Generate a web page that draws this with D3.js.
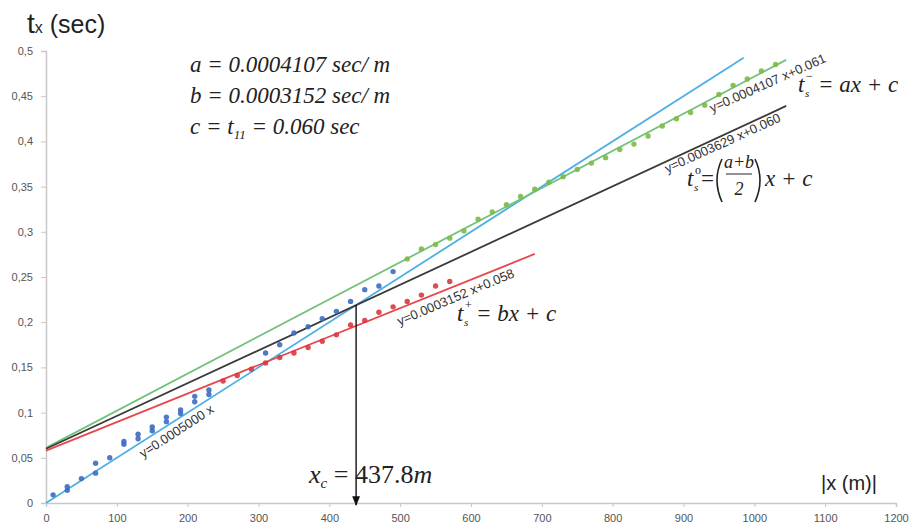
<!DOCTYPE html>
<html>
<head>
<meta charset="utf-8">
<script src="https://cdn.jsdelivr.net/npm/d3@7"></script>
<style>
  html, body { margin: 0; padding: 0; background: #fff; }
  svg { display: block; }
  .tick text { font-family: "Liberation Sans", Arial, sans-serif; font-size: 11px; fill: #555; }
</style>
</head>
<body>
<svg id="chart" width="914" height="530"></svg>
<script>
// Axis ticks
const xTicks = [0, 100, 200, 300, 400, 500, 600, 700, 800, 900, 1000, 1100, 1200];
const yTicks = [0, 0.05, 0.1, 0.15, 0.2, 0.25, 0.3, 0.35, 0.4, 0.45, 0.5];
const yTickLabels = ["0", "0,05", "0,1", "0,15", "0,2", "0,25", "0,3", "0,35", "0,4", "0,45", "0,5"];

// Measured travel times (blue: direct arrivals, red: forward, green: reverse)
const blueX = [10, 30, 30, 50, 70, 70, 90, 110, 110, 130, 130, 150, 150, 170, 170, 190, 190, 210, 210, 230, 230,
               310, 330, 350, 370, 390, 410, 430, 450, 470, 490];
const blueY = [0.009, 0.018, 0.014, 0.027, 0.044, 0.033, 0.050, 0.068, 0.065, 0.076, 0.071, 0.084, 0.080, 0.095, 0.090,
               0.103, 0.099, 0.118, 0.112, 0.125, 0.120,
               0.166, 0.175, 0.188, 0.195, 0.204, 0.212, 0.223, 0.236, 0.240, 0.256];
const redX = [250, 270, 290, 310, 330, 350, 370, 390, 410, 430, 450, 470, 490, 510, 530, 550, 570];
const redY = [0.135, 0.141, 0.148, 0.155, 0.161, 0.166, 0.172, 0.179, 0.186, 0.197, 0.202, 0.211, 0.217, 0.223,
              0.230, 0.240, 0.245];
const greenX = [510, 530, 550, 570, 590, 610, 630, 650, 670, 690, 710, 730, 750, 770, 790, 810, 830, 850, 870,
                890, 910, 930, 950, 970, 990, 1010, 1030];
const greenY = [0.270, 0.281, 0.286, 0.293, 0.301, 0.314, 0.322, 0.330, 0.339, 0.347, 0.355, 0.361, 0.369, 0.376,
                0.382, 0.391, 0.397, 0.406, 0.417, 0.425, 0.432, 0.440, 0.452, 0.462, 0.469, 0.478, 0.485];

// Linear fits: y = slope * x + intercept, drawn from x = 0 to xEnd
const fitNames = ["blue", "green", "black", "red"];
const fitSlopes = [0.0005000, 0.0004107, 0.0003629, 0.0003152];
const fitIntercepts = [0, 0.061, 0.060, 0.058];
const fitEnds = [985, 1045, 1045, 690];
const fitColors = ["#4db0e4", "#72c27c", "#3a3a3a", "#e5474c"];
const fitLabels = ["y=0.0005000 x", "y=0.0004107 x+0.061", "y=0.0003629 x+0.060", "y=0.0003152 x+0.058"];

// Crossover distance
const xCross = 437.8;

const SERIF = "'Liberation Serif', 'DejaVu Serif', 'Times New Roman', Times, serif";
const SANS = "'Liberation Sans', Arial, sans-serif";

const svg = d3.select("#chart");
const x = d3.scaleLinear().domain([0, 1200]).range([46, 896]);
const y = d3.scaleLinear().domain([0, 0.5]).range([503, 51]);

// Axes
const xAxis = d3.axisBottom(x).tickValues(xTicks).tickSize(4).tickPadding(7).tickFormat(d3.format("d"));
const gx = svg.append("g").attr("transform", `translate(0,${y(0)})`).call(xAxis);
gx.select(".domain").attr("stroke", "#c8c8c8").attr("stroke-width", 1.5);
gx.selectAll(".tick line").attr("stroke", "#c8c8c8");

const yAxis = d3.axisLeft(y).tickValues(yTicks).tickSize(5).tickPadding(8)
  .tickFormat((d, i) => yTickLabels[i]);
const gy = svg.append("g").attr("transform", `translate(${x(0)},0)`).call(yAxis);
gy.select(".domain").attr("stroke", "#c8c8c8").attr("stroke-width", 1.5);
gy.selectAll(".tick line").attr("stroke", "#c8c8c8");

// Axis titles
const yt = svg.append("text").attr("x", 27).attr("y", 33)
  .attr("font-family", SANS).attr("fill", "#222");
yt.append("tspan").attr("font-size", 28).text("t");
yt.append("tspan").attr("font-size", 16).text("x");
yt.append("tspan").attr("font-size", 25).text(" (sec)");

svg.append("text").attr("x", 821).attr("y", 490)
  .attr("font-family", SANS).attr("font-size", 20).attr("fill", "#222")
  .text("|x (m)|");

// Fit lines
const line = d3.line().x(d => x(d[0])).y(d => y(d[1]));
fitNames.forEach((name, i) => {
  const pts = [[0, fitIntercepts[i]], [fitEnds[i], fitSlopes[i] * fitEnds[i] + fitIntercepts[i]]];
  svg.append("path").datum(pts).attr("d", line)
    .attr("fill", "none").attr("stroke", fitColors[i]).attr("stroke-width", 1.8);
});

// Data points
function dots(xs, ys, color) {
  svg.append("g").selectAll("circle").data(xs).join("circle")
    .attr("cx", d => x(d)).attr("cy", (d, i) => y(ys[i])).attr("r", 2.7)
    .attr("fill", color).attr("fill-opacity", 0.9);
}
dots(blueX, blueY, "#3b6cc0");
dots(redX, redY, "#d8383d");
dots(greenX, greenY, "#7dba45");

// Fit equation labels along the lines
const labelPos = [[177, 432, -33], [768, 84, -24], [723, 144, -24.5], [456, 298, -23]];
fitLabels.forEach((t, i) => {
  const [lx, ly, ang] = labelPos[i];
  svg.append("text").attr("transform", `translate(${lx},${ly}) rotate(${ang})`)
    .attr("text-anchor", "middle").attr("dominant-baseline", "middle")
    .attr("font-family", SANS).attr("font-size", 13).attr("fill", "#333")
    .text(t);
});

// Math text helper
function math(g, px, py, size, txt, upright) {
  return g.append("text").attr("x", px).attr("y", py)
    .attr("font-family", SERIF).attr("font-style", upright ? "normal" : "italic")
    .attr("font-size", size).attr("fill", "#222").text(txt);
}

// Parameter block
const eq = svg.append("g");
math(eq, 190, 72, 23, "a = 0.0004107 sec/ m");
math(eq, 190, 103, 23, "b = 0.0003152 sec/ m");
const ct = math(eq, 190, 134, 23, "");
ct.append("tspan").text("c = t");
ct.append("tspan").attr("font-size", 13).attr("dy", 5).text("11");
ct.append("tspan").attr("dy", -5).text(" = 0.060 sec");

// t_s symbols with a superscript mark
function tsym(g, px, py, sup) {
  math(g, px, py, 23, "t");
  math(g, px + 7, py + 5, 11, "s");
  math(g, px + 8, py - 12, 12, sup, true);
}
tsym(eq, 798, 92, "\u2212");
math(eq, 818, 92, 23, "= ax + c");

tsym(eq, 457, 321, "+");
math(eq, 476, 321, 23, "= bx + c");

tsym(eq, 687, 186, "o");
math(eq, 701, 186, 23, "=", true);
// large brackets around the fraction
eq.append("path").attr("d", "M722,159 Q712,180 722,202")
  .attr("fill", "none").attr("stroke", "#222").attr("stroke-width", 1.6);
eq.append("path").attr("d", "M755,159 Q765,180 755,202")
  .attr("fill", "none").attr("stroke", "#222").attr("stroke-width", 1.6);
math(eq, 739, 168, 18, "a+b").attr("text-anchor", "middle");
eq.append("line").attr("x1", 726).attr("x2", 752).attr("y1", 174).attr("y2", 174)
  .attr("stroke", "#222").attr("stroke-width", 1);
math(eq, 739, 195, 18, "2").attr("text-anchor", "middle");
math(eq, 765, 186, 23, "x + c");

// Crossover arrow
const xc = x(xCross);
svg.append("defs").append("marker").attr("id", "arrow").attr("viewBox", "0 0 10 10")
  .attr("refX", 9).attr("refY", 5).attr("markerWidth", 7).attr("markerHeight", 8).attr("orient", "auto")
  .append("path").attr("d", "M0,1 L10,5 L0,9 Z").attr("fill", "#111");
svg.append("line").attr("x1", xc).attr("x2", xc)
  .attr("y1", y(fitSlopes[0] * xCross)).attr("y2", y(0) + 2)
  .attr("stroke", "#111").attr("stroke-width", 1.4).attr("marker-end", "url(#arrow)");

const xl = math(svg, 309, 483, 26, "");
xl.append("tspan").text("x");
xl.append("tspan").attr("font-size", 15).attr("dy", 5).text("c");
xl.append("tspan").attr("dy", -5).attr("font-style", "normal").text(" = ");
xl.append("tspan").attr("font-style", "normal").text("437.8");
xl.append("tspan").text("m");
</script>
</body>
</html>
